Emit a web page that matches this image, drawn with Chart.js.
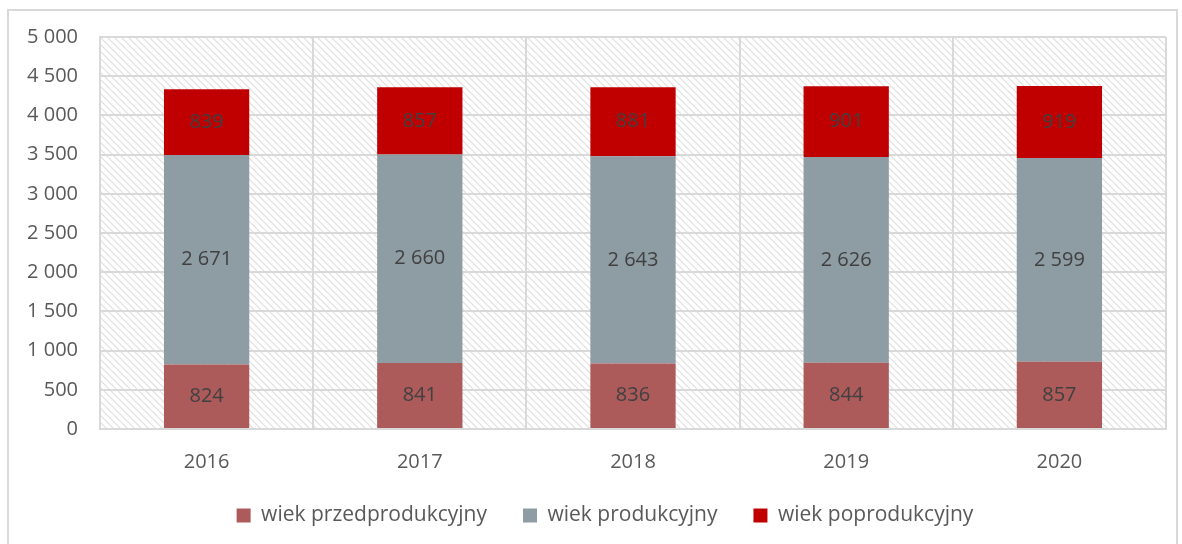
<!DOCTYPE html>
<html>
<head>
<meta charset="utf-8">
<script src="https://cdn.jsdelivr.net/npm/chart.js@4"></script>
<style>
  html, body { margin: 0; padding: 0; background: #fff; }
  .frame { position: absolute; left: 7px; top: 9px; width: 1171px; height: 540px; border: 2px solid #d9d9d9; box-sizing: border-box; }
  .wrap { position: absolute; left: 0; top: 0; width: 1182px; height: 544px; }
</style>
</head>
<body>
<div class="frame"></div>
<div class="wrap"><canvas id="myChart"></canvas></div>
<script>
const years = ['2016', '2017', '2018', '2019', '2020'];
const przed = [824, 841, 836, 844, 857];
const prod = [2671, 2660, 2643, 2626, 2599];
const poprod = [839, 857, 881, 901, 919];
const yTicks = [0, 500, 1000, 1500, 2000, 2500, 3000, 3500, 4000, 4500, 5000];

const fmt = v => String(v).replace(/\B(?=(\d{3})+(?!\d))/g, ' ');

// hatched plot background
const makeHatch = () => {
    const c = document.createElement('canvas');
    c.width = 7; c.height = 7;
    const g = c.getContext('2d');
    g.strokeStyle = '#dedede';
    g.lineWidth = 1.1;
    g.beginPath();
    g.moveTo(0, 0); g.lineTo(7, 7);
    g.moveTo(-3.5, 3.5); g.lineTo(3.5, 10.5);
    g.moveTo(3.5, -3.5); g.lineTo(10.5, 3.5);
    g.stroke();
    return g.createPattern(c, 'repeat');
};

const hatchBg = {
    id: 'hatchBg',
    beforeDraw(chart) {
        const { ctx, chartArea: a } = chart;
        ctx.save();
        ctx.fillStyle = makeHatch();
        ctx.fillRect(a.left, a.top, a.right - a.left, a.bottom - a.top);
        ctx.restore();
    }
};

// legend sits a bit right of centre in the original
const legendShift = {
    id: 'legendShift',
    afterLayout(chart) {
        if (chart.legend) {
            chart.legend.left += 12;
            chart.legend.right += 12;
        }
    }
};

const barLabels = {
    id: 'barLabels',
    afterDatasetsDraw(chart) {
        const { ctx } = chart;
        ctx.save();
        ctx.font = '20px "Open Sans"';
        ctx.fillStyle = '#404040';
        ctx.textAlign = 'center';
        ctx.textBaseline = 'middle';
        chart.data.datasets.forEach((ds, i) => {
            chart.getDatasetMeta(i).data.forEach((bar, j) => {
                const { x, y, base } = bar.getProps(['x', 'y', 'base'], true);
                ctx.fillText(fmt(ds.data[j]), x, (y + base) / 2);
            });
        });
        ctx.restore();
    }
};

const ctx = document.getElementById('myChart');
new Chart(ctx, {
    type: 'bar',
    data: {
        labels: years,
        datasets: [
            { label: 'wiek przedprodukcyjny', data: przed, backgroundColor: '#ad5a5a' },
            { label: 'wiek produkcyjny', data: prod, backgroundColor: '#8e9ca3' },
            { label: 'wiek poprodukcyjny', data: poprod, backgroundColor: '#c00000' }
        ]
    },
    options: {
        responsive: true,
        maintainAspectRatio: false,
        animation: false,
        layout: { padding: { left: 20, right: 16, top: 37, bottom: 8 } },
        datasets: { bar: { categoryPercentage: 1, barPercentage: 0.4 } },
        scales: {
            x: {
                stacked: true,
                grid: { offset: true, color: '#d9d9d9', lineWidth: 2, drawTicks: false },
                border: { color: '#d9d9d9', width: 2 },
                ticks: { color: '#595959', font: { family: 'Open Sans', size: 20 }, padding: 21 },
                afterFit(s) { s.height = 40; }
            },
            y: {
                stacked: true,
                min: 0, max: 5000,
                afterBuildTicks(s) { s.ticks = yTicks.map(v => ({ value: v })); },
                grid: { color: '#d9d9d9', lineWidth: 2, drawTicks: false },
                border: { color: '#d9d9d9', width: 2 },
                ticks: { color: '#595959', font: { family: 'Open Sans', size: 20 }, padding: 22, callback: v => fmt(v) },
                afterFit(s) { s.width = 80; }
            }
        },
        plugins: {
            legend: {
                position: 'bottom',
                labels: { color: '#595959', font: { family: 'Open Sans', size: 21 }, boxWidth: 14, boxHeight: 14, padding: 36 }
            },
            tooltip: { enabled: false }
        }
    },
    plugins: [hatchBg, barLabels, legendShift]
});
</script>
</body>
</html>
